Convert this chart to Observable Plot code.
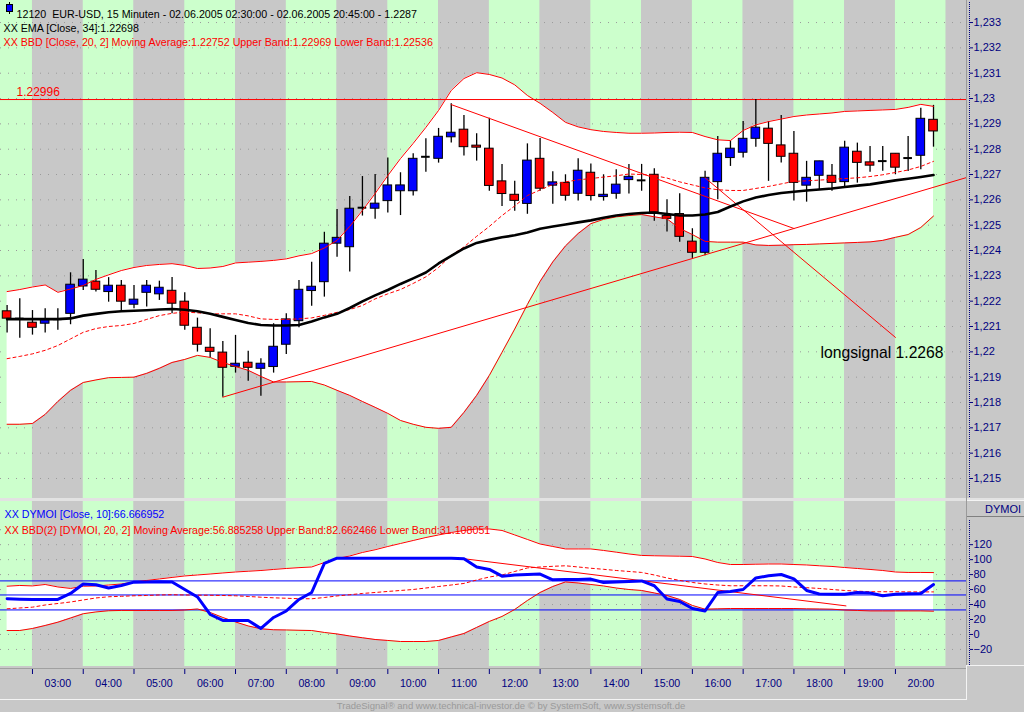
<!DOCTYPE html>
<html>
<head>
<meta charset="utf-8">
<script src="https://cdn.jsdelivr.net/npm/d3@7"></script>
<script src="https://cdn.jsdelivr.net/npm/@observablehq/plot@0.6"></script>
<style>
  html,body{margin:0;padding:0;background:#c8c8c8;}
  #wrap{position:relative;width:1024px;height:712px;overflow:hidden;background:#c8c8c8;font-family:"Liberation Sans",Arial,sans-serif;}
  .abs{position:absolute;}
</style>
</head>
<body>
<div id="wrap">
  <div id="upper" class="abs" style="left:0;top:0"></div>
  <div class="abs" style="left:0;top:498px;width:1024px;height:3px;background:#e2e2e2"></div>
  <div id="lower" class="abs" style="left:0;top:501px"></div>
  <!-- decorations -->
  <div class="abs" style="left:966px;top:0;width:1px;height:665px;background:#9a9a9a"></div>
  <div class="abs" style="left:969px;top:2px;width:0;height:495px;border-left:1px dotted #000080"></div>
  <div class="abs" style="left:969px;top:520px;width:0;height:145px;border-left:1px dotted #000080"></div>
  <div class="abs" style="left:967px;top:500px;width:57px;height:17px;border-top:1px solid #f4f4f4;border-bottom:1px solid #808080;color:#000080;font-size:11px;line-height:17px;text-align:right;box-sizing:border-box;padding-right:3px">DYMOI</div>
  <div class="abs" style="left:0;top:668px;width:966px;height:1px;background:#a0a0a0"></div>
  <div class="abs" style="left:0;top:699px;width:967px;height:1px;background:#f4f4f4"></div>
  <div class="abs" style="left:966px;top:665px;width:1px;height:35px;background:#f4f4f4"></div>
  <div class="abs" style="left:966px;top:665px;width:58px;height:1px;background:#f4f4f4"></div>
  <div class="abs" style="left:9px;top:2px;width:1px;height:12px;background:#000"></div>
  <div class="abs" style="left:6px;top:4px;width:5px;height:6px;background:#0000ff;border:1px solid #000"></div>
  <div class="abs" style="left:0;top:700px;width:1022px;text-align:center;font-size:9.5px;color:#9a9a9a;line-height:12px">TradeSignal® and www.technical-investor.de © by SystemSoft, www.systemsoft.de</div>
</div>
<script>
// ---------- DATA (15-minute bars, 02.06.2005 02:30 – 20:45) ----------
const open  = [1.22160,1.22131,1.22115,1.22111,1.22129,1.22150,1.22258,1.22277,1.22236,1.22261,
               1.22186,1.22233,1.22227,1.22241,1.22198,1.22095,1.22016,1.21997,1.21941,1.21957,
               1.21933,1.21940,1.22028,1.22121,1.22240,1.22275,1.22427,1.22413,1.22569,1.22565,
               1.22595,1.22634,1.22634,1.22770,1.22762,1.22847,1.22877,1.22814,1.22802,1.22673,
               1.22620,1.22584,1.22762,1.22656,1.22667,1.22624,1.22707,1.22611,1.22624,1.22678,
               1.22677,1.22699,1.22536,1.22544,1.22435,1.22391,1.22670,1.22765,1.22786,1.22841,
               1.22881,1.22815,1.22782,1.22656,1.22695,1.22695,1.22670,1.22790,1.22748,1.22753,
               1.22782,1.22765,1.22774,1.22916];
const high  = [1.22183,1.22210,1.22163,1.22170,1.22170,1.22312,1.22365,1.22321,1.22293,1.22282,
               1.22262,1.22282,1.22279,1.22293,1.22233,1.22133,1.22091,1.22041,1.22065,1.22002,
               1.21973,1.22111,1.22150,1.22282,1.22354,1.22472,1.22562,1.22613,1.22692,1.22700,
               1.22765,1.22707,1.22782,1.22841,1.22882,1.22979,1.22933,1.22861,1.22922,1.22740,
               1.22673,1.22821,1.22842,1.22711,1.22699,1.22762,1.22742,1.22699,1.22719,1.22740,
               1.22740,1.22723,1.22600,1.22624,1.22486,1.22713,1.22850,1.22832,1.22909,1.22996,
               1.22909,1.22933,1.22870,1.22752,1.22752,1.22740,1.22831,1.22824,1.22811,1.22811,
               1.22782,1.22850,1.22962,1.22973];
const low   = [1.22074,1.22054,1.22066,1.22074,1.22085,1.22107,1.22242,1.22236,1.22196,1.22161,
               1.22170,1.22177,1.22203,1.22150,1.22085,1.21999,1.21977,1.21821,1.21916,1.21884,
               1.21825,1.21916,1.21989,1.22095,1.22180,1.22216,1.22373,1.22315,1.22536,1.22523,
               1.22548,1.22538,1.22615,1.22709,1.22745,1.22824,1.22773,1.22753,1.22634,1.22574,
               1.22555,1.22543,1.22634,1.22583,1.22595,1.22595,1.22595,1.22595,1.22602,1.22623,
               1.22634,1.22516,1.22473,1.22433,1.22369,1.22379,1.22600,1.22732,1.22765,1.22808,
               1.22673,1.22745,1.22595,1.22591,1.22640,1.22634,1.22648,1.22666,1.22709,1.22713,
               1.22699,1.22712,1.22719,1.22808];
const close = [1.22131,1.22131,1.22095,1.22125,1.22129,1.22265,1.22285,1.22245,1.22261,1.22198,
               1.22206,1.22261,1.22253,1.22190,1.22103,1.22028,1.22000,1.21937,1.21953,1.21937,
               1.21953,1.22020,1.22128,1.22245,1.22257,1.22427,1.22450,1.22565,1.22569,1.22585,
               1.22657,1.22657,1.22762,1.22770,1.22849,1.22865,1.22808,1.22806,1.22655,1.22623,
               1.22596,1.22755,1.22644,1.22669,1.22616,1.22715,1.22615,1.22620,1.22660,1.22691,
               1.22677,1.22550,1.22525,1.22454,1.22391,1.22687,1.22782,1.22802,1.22841,1.22885,
               1.22821,1.22770,1.22667,1.22687,1.22752,1.22667,1.22806,1.22746,1.22735,1.22753,
               1.22727,1.22765,1.22920,1.22870];
const ema34 = [1.22129,1.22129,1.22129,1.22129,1.22129,1.22132,1.22143,1.22150,1.22156,1.22160,
               1.22162,1.22164,1.22167,1.22169,1.22166,1.22160,1.22150,1.22138,1.22126,1.22114,
               1.22106,1.22104,1.22104,1.22106,1.22120,1.22136,1.22150,1.22173,1.22199,1.22223,
               1.22244,1.22268,1.22290,1.22313,1.22349,1.22379,1.22408,1.22430,1.22442,1.22452,
               1.22460,1.22471,1.22486,1.22495,1.22503,1.22511,1.22519,1.22529,1.22538,1.22544,
               1.22548,1.22550,1.22544,1.22538,1.22538,1.22542,1.22552,1.22574,1.22594,1.22609,
               1.22619,1.22627,1.22632,1.22637,1.22641,1.22645,1.22651,1.22656,1.22661,1.22669,
               1.22677,1.22683,1.22690,1.22698];
const bbUpper = [1.22238,1.22246,1.22256,1.22264,1.22235,1.22248,1.22262,1.22286,1.22304,1.22321,
               1.22333,1.22341,1.22345,1.22348,1.22341,1.22329,1.22331,1.22337,1.22351,1.22354,
               1.22357,1.22361,1.22367,1.22379,1.22388,1.22410,1.22440,1.22495,1.22558,1.22625,
               1.22696,1.22763,1.22823,1.22886,1.22953,1.23032,1.23079,1.23102,1.23095,1.23081,
               1.23054,1.23012,1.22981,1.22945,1.22906,1.22888,1.22877,1.22870,1.22866,1.22863,
               1.22863,1.22864,1.22866,1.22867,1.22866,1.22850,1.22837,1.22834,1.22874,1.22896,
               1.22909,1.22919,1.22929,1.22935,1.22939,1.22943,1.22949,1.22951,1.22953,1.22955,
               1.22957,1.22965,1.22977,1.22969];
const bbMid = [1.21973,1.21982,1.21992,1.22006,1.22025,1.22051,1.22077,1.22092,1.22100,1.22104,
               1.22112,1.22128,1.22143,1.22152,1.22157,1.22154,1.22150,1.22150,1.22150,1.22142,
               1.22130,1.22128,1.22128,1.22130,1.22134,1.22144,1.22156,1.22167,1.22183,1.22209,
               1.22229,1.22246,1.22270,1.22296,1.22333,1.22381,1.22414,1.22456,1.22495,1.22538,
               1.22576,1.22617,1.22639,1.22661,1.22671,1.22679,1.22684,1.22690,1.22695,1.22702,
               1.22700,1.22696,1.22686,1.22671,1.22659,1.22647,1.22640,1.22637,1.22637,1.22645,
               1.22653,1.22663,1.22673,1.22675,1.22678,1.22681,1.22684,1.22687,1.22692,1.22699,
               1.22708,1.22718,1.22732,1.22752];
const bbLower = [1.21714,1.21714,1.21717,1.21753,1.21804,1.21848,1.21879,1.21889,1.21898,1.21899,
               1.21900,1.21915,1.21935,1.21958,1.21970,1.21986,1.21978,1.21958,1.21942,1.21927,
               1.21903,1.21881,1.21881,1.21882,1.21883,1.21869,1.21848,1.21828,1.21804,1.21781,
               1.21757,1.21729,1.21714,1.21702,1.21698,1.21702,1.21761,1.21828,1.21907,1.21998,
               1.22090,1.22187,1.22278,1.22355,1.22418,1.22467,1.22506,1.22523,1.22533,1.22538,
               1.22542,1.22533,1.22525,1.22487,1.22463,1.22436,1.22433,1.22433,1.22433,1.22422,
               1.22420,1.22421,1.22423,1.22424,1.22426,1.22428,1.22430,1.22432,1.22434,1.22440,
               1.22452,1.22463,1.22491,1.22536];
const dymoi = [47.7,47.2,46.8,46.8,46.8,54.8,67.5,66.4,62.1,65.5,
               69.9,70.2,70.4,70.2,60.1,50.1,26.7,18.7,18.7,18.7,
               8.0,22.7,31.4,46.8,56.1,94.9,102.0,102.0,102.0,102.0,
               102.0,102.0,102.0,102.0,102.0,102.0,101.2,90.2,86.9,77.9,
               79.4,80.2,80.7,73.1,73.5,73.5,74.0,69.5,70.2,70.8,
               71.5,65.1,47.4,44.1,34.7,31.5,56.1,57.5,60.1,75.5,
               78.4,80.2,74.4,58.8,54.1,53.9,53.9,56.1,55.5,51.7,
               53.9,54.4,54.8,66.7];
const dyUpper = [64.5,65.5,64.9,66.8,63.5,61.5,64.5,64.8,66.1,67.5,
               70.2,72.2,74.2,76.2,78.2,79.5,80.8,82.2,83.5,84.5,
               85.5,86.9,88.2,89.3,90.2,96.2,101.6,104.9,109.6,113.2,
               117.6,121.6,125.6,129.6,133.0,136.3,139.0,141.0,141.0,139.0,
               133.0,127.0,120.9,117.6,114.3,114.3,114.3,112.3,110.0,107.6,
               105.6,105.2,104.9,104.6,104.2,100.9,96.2,93.5,93.5,93.9,
               94.2,94.2,93.5,92.9,91.8,90.9,89.5,88.2,86.9,85.5,
               83.5,82.9,82.9,82.7];
const dyMid = [34.3,35.4,36.5,39.4,41.4,43.4,46.1,48.8,50.4,51.0,
               51.7,52.1,52.8,53.1,52.8,52.5,52.4,52.1,51.7,50.8,
               49.8,49.0,48.4,47.8,47.7,49.4,51.5,53.1,54.8,56.1,
               57.5,58.8,60.1,62.1,64.1,66.1,68.2,72.8,76.8,79.5,
               84.2,88.9,90.2,91.1,91.8,90.2,88.5,87.1,85.5,84.2,
               82.9,79.5,75.5,72.2,69.5,67.5,66.1,65.1,65.1,65.1,
               65.1,64.8,63.5,62.5,61.5,60.1,58.8,57.9,57.1,57.1,
               57.1,56.9,56.9,56.9];
const dyLower = [5.3,5.3,8.0,12.0,16.4,22.0,27.7,30.1,31.7,32.1,
               32.1,32.1,32.1,32.1,32.7,34.1,29.4,22.7,16.7,11.4,
               7.6,6.3,6.0,5.6,5.3,2.7,0.7,-2.0,-4.4,-6.7,
               -8.0,-9.4,-9.4,-9.4,-8.0,-3.3,1.3,9.4,17.4,24.1,
               33.4,45.4,56.1,64.1,70.2,68.8,66.8,64.8,62.1,60.1,
               58.8,55.5,52.1,46.8,38.8,33.8,34.3,34.7,34.7,34.7,
               34.7,34.7,34.7,34.3,34.1,33.8,32.7,32.1,31.5,31.5,
               31.5,31.5,31.5,31.1];
// trend lines drawn on the chart: [bar index, value]
const priceTrend1 = [[17, 1.21821], [75.6, 1.22688]];
const priceTrend2 = [[35, 1.22976], [62, 1.22487]];
const priceTrend3 = [[55, 1.22687], [70, 1.22057]];
const dymoiTrend  = [[36, 101.2], [66.1, 38.2]];
const resistance = 1.22996;
const dymoiLevels = [71.6, 52.8, 32.8];
const notes = [{label: "longsignal 1.2268", i: 64.1, p: 1.21997}];
// axes
const priceTicks = [1.215,1.216,1.217,1.218,1.219,1.22,1.221,1.222,1.223,1.224,1.225,1.226,1.227,1.228,1.229,1.23,1.231,1.232,1.233];
const dymoiTicks = [-20,0,20,40,60,80,100,120];
const dymoiGrid = [-20,0,20,40,60,80,100,120,140];
const hourLabels = ["03:00","04:00","05:00","06:00","07:00","08:00","09:00","10:00","11:00","12:00","13:00","14:00","15:00","16:00","17:00","18:00","19:00","20:00"];
const hourTickBars = [2,6,10,14,18,22,26,30,34,38,42,46,50,54,58,62,66,70];
const hourLabelBars = [4,8,12,16,20,24,28,32,36,40,44,48,52,56,60,64,68,72];
const stripeHours = [2,3,4,5,6,7,8,9,10,11,12,13,14,15,16,17,18,19,20,21];
const headerMain = "12120\u00a0\u00a0EUR-USD, 15 Minuten - 02.06.2005 02:30:00 - 02.06.2005 20:45:00 - 1.2287";
const headerEma = "XX EMA [Close, 34]:1.22698";
const headerBB = "XX BBD [Close, 20, 2] Moving Average:1.22752 Upper Band:1.22969 Lower Band:1.22536";
const headerDy = "XX DYMOI [Close, 10]:66.666952";
const headerDyBB = "XX BBD(2) [DYMOI, 20, 2] Moving Average:56.885258 Upper Band:82.662466 Lower Band:31.108051";

// ---------- BUILD ----------
const RED = "#ff0000", BLUE = "#0000ff";
const FONT = "'Liberation Sans', Arial, sans-serif";
const xDomain = [-0.52, 75.6];
const bars = close.map((c, i) => ({i, o: open[i], h: high[i], l: low[i], c,
  ema: ema34[i], up: bbUpper[i], mid: bbMid[i], lo: bbLower[i],
  dv: dymoi[i], dup: dyUpper[i], dmid: dyMid[i], dlo: dyLower[i]}));
const stripes = stripeHours.map(h => ({
  x1: Math.max(xDomain[0], 2 + 4 * (h - 3)),
  x2: Math.min(xDomain[1], 6 + 4 * (h - 3)),
  fill: h % 2 === 0 ? "#ccffcc" : "#c8c8c8"}));
const trendRows = [priceTrend1, priceTrend2, priceTrend3].flatMap((t, k) => t.map(p => ({k, i: p[0], v: p[1]})));
const fmtPrice = d => String(+d.toFixed(3)).replace(".", ",");
const pDom = [1.21421, 1.23387];
const dDom = [-42.8, 177.7];

const upperPlot = Plot.plot({
  width: 1024, height: 498,
  marginLeft: 0, marginRight: 58, marginTop: 0, marginBottom: 0,
  style: {background: "transparent", color: "#000080", fontFamily: FONT},
  x: {domain: xDomain, axis: null},
  y: {domain: pDom, axis: null},
  marks: [
    Plot.rect(stripes, {x1: "x1", x2: "x2", y1: pDom[0], y2: pDom[1], fill: "fill", clip: true}),
    Plot.ruleY(priceTicks, {stroke: "#9a9a9a", strokeDasharray: "1,7"}),
    Plot.areaY(bars, {x: "i", y1: "lo", y2: "up", fill: "white"}),
    Plot.ruleY([resistance], {stroke: RED, strokeWidth: 1}),
    Plot.text([resistance], {y: d => d, frameAnchor: "left", dx: 16, dy: -7, text: d => d.toFixed(5), fill: RED, fontSize: 12, textAnchor: "start"}),
    Plot.ruleX(bars, {x: "i", y1: "l", y2: "h", stroke: "black", strokeWidth: 1.3}),
    Plot.rect(bars.filter(d => d.o !== d.c), {x1: d => d.i - 0.34, x2: d => d.i + 0.34, y1: "o", y2: "c",
      fill: d => d.c > d.o ? BLUE : RED, stroke: "black", strokeWidth: 1}),
    Plot.ruleY(bars.filter(d => d.o === d.c), {x1: d => d.i - 0.34, x2: d => d.i + 0.34, y: "c", stroke: "black", strokeWidth: 2}),
    Plot.line(bars, {x: "i", y: "up", stroke: RED, strokeWidth: 1}),
    Plot.line(bars, {x: "i", y: "lo", stroke: RED, strokeWidth: 1}),
    Plot.line(bars, {x: "i", y: "mid", stroke: RED, strokeWidth: 1, strokeDasharray: "3,3"}),
    Plot.line(trendRows, {x: "i", y: "v", z: "k", stroke: RED, strokeWidth: 1}),
    Plot.line(bars, {x: "i", y: "ema", stroke: "black", strokeWidth: 2.6}),
    Plot.text(notes, {x: "i", y: "p", text: "label", textAnchor: "start", fontSize: 15.7, fill: "black"}),
    Plot.text([headerMain], {frameAnchor: "top-left", dx: 16, dy: 10, text: d => d, textAnchor: "start", fill: "black", fontSize: 10.7}),
    Plot.text([headerEma], {frameAnchor: "top-left", dx: 3, dy: 24, text: d => d, textAnchor: "start", fill: "black", fontSize: 10.7}),
    Plot.text([headerBB], {frameAnchor: "top-left", dx: 3, dy: 38, text: d => d, textAnchor: "start", fill: RED, fontSize: 10.7}),
    Plot.axisY(priceTicks, {anchor: "right", tickSize: 3, tickPadding: 1, dx: 3, tickFormat: fmtPrice, fontSize: 11, label: null})
  ]
});
document.getElementById("upper").appendChild(upperPlot);

const lowerPlot = Plot.plot({
  width: 1024, height: 199,
  marginLeft: 0, marginRight: 58, marginTop: 0, marginBottom: 34,
  style: {background: "transparent", color: "#000080", fontFamily: FONT},
  x: {domain: xDomain, axis: null, label: null},
  y: {domain: dDom, axis: null},
  marks: [
    Plot.rect(stripes, {x1: "x1", x2: "x2", y1: dDom[0], y2: dDom[1], fill: "fill", clip: true}),
    Plot.ruleY(dymoiGrid, {stroke: "#9a9a9a", strokeDasharray: "1,7"}),
    Plot.areaY(bars, {x: "i", y1: "dlo", y2: "dup", fill: "white"}),
    Plot.ruleY(dymoiLevels, {stroke: BLUE, strokeWidth: 1}),
    Plot.line(bars, {x: "i", y: "dup", stroke: RED, strokeWidth: 1}),
    Plot.line(bars, {x: "i", y: "dlo", stroke: RED, strokeWidth: 1}),
    Plot.line(bars, {x: "i", y: "dmid", stroke: RED, strokeWidth: 1, strokeDasharray: "3,3"}),
    Plot.line(dymoiTrend, {x: d => d[0], y: d => d[1], stroke: RED, strokeWidth: 1}),
    Plot.line(bars, {x: "i", y: "dv", stroke: BLUE, strokeWidth: 3}),
    Plot.text([headerDy], {frameAnchor: "top-left", dx: 4, dy: 9, text: d => d, textAnchor: "start", fill: BLUE, fontSize: 10.7}),
    Plot.text([headerDyBB], {frameAnchor: "top-left", dx: 4, dy: 24.5, text: d => d, textAnchor: "start", fill: RED, fontSize: 10.7}),
    Plot.axisY(dymoiTicks, {anchor: "right", tickSize: 3, tickPadding: 1, dx: 3, fontSize: 11, label: null}),
    Plot.axisX(hourTickBars, {anchor: "bottom", tickSize: 5, dy: 3, tickFormat: () => "", label: null}),
    Plot.axisX(hourLabelBars, {anchor: "bottom", tickSize: 0, tickPadding: 10, dy: 3, fontSize: 10.6,
      tickFormat: d => hourLabels[hourLabelBars.indexOf(d)], label: null})
  ]
});
document.getElementById("lower").appendChild(lowerPlot);
</script>
</body>
</html>
